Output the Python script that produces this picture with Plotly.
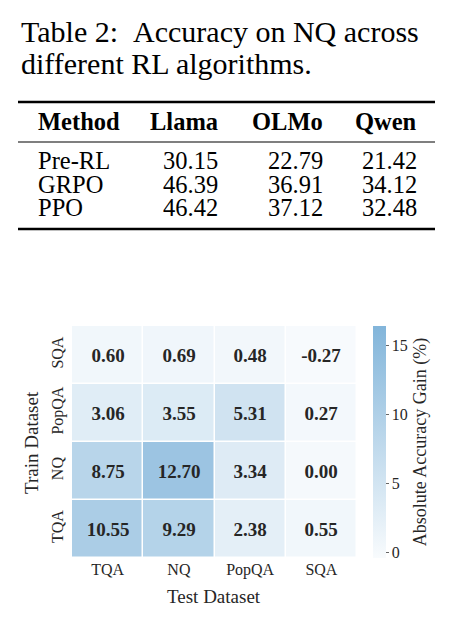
import plotly.graph_objects as go

W, H = 455, 623

# ---------------- data ----------------
caption_line1 = "Table 2:\u00a0\u00a0Accuracy on NQ across"
caption_line2 = "different RL algorithms."
table_header = ["Method", "Llama", "OLMo", "Qwen"]
table_methods = ["Pre-RL", "GRPO", "PPO"]
llama = [30.15, 46.39, 46.42]
olmo = [22.79, 36.91, 37.12]
qwen = [21.42, 34.12, 32.48]

test_sets = ["TQA", "NQ", "PopQA", "SQA"]
train_sets = ["TQA", "NQ", "PopQA", "SQA"]  # bottom -> top
gain = [
    [10.55, 9.29, 2.38, 0.55],   # TQA
    [8.75, 12.70, 3.34, 0.00],   # NQ
    [3.06, 3.55, 5.31, 0.27],    # PopQA
    [0.60, 0.69, 0.48, -0.27],   # SQA
]
cbar_ticks = [0, 5, 10, 15]
fig_caption = "Figure 3:\u00a0\u00a0Cross-dataset accuracy gains"

SERIF = "Liberation Serif, Times New Roman, serif"
INK = "#262626"


def px(x):
    return x / W


def py(y):
    return 1 - y / H


text = [[f"{v:.2f}" for v in row] for row in gain]

fig = go.Figure()
fig.add_trace(go.Heatmap(
    z=gain, x=test_sets, y=train_sets,
    text=text, texttemplate="%{text}",
    textfont=dict(family=SERIF, size=19, color=INK, weight="bold"),
    colorscale=[[0, "#f8fbfd"], [1, "#82b5da"]],
    zmin=-0.4, zmax=16.4,
    xgap=1.5, ygap=1.5,
    colorbar=dict(
        x=px(373), xanchor="left", xref="paper", xpad=0,
        y=py(442), yanchor="middle", yref="paper", ypad=0,
        thickness=13, len=232, lenmode="pixels",
        outlinewidth=0,
        tickvals=cbar_ticks, ticks="outside", ticklen=3, tickcolor="#666",
        tickfont=dict(family=SERIF, size=16, color=INK),
        title=dict(text="Absolute Accuracy Gain (%)", side="right",
                   font=dict(family=SERIF, size=18, color=INK)),
    ),
    hoverinfo="skip",
))

fig.update_xaxes(domain=[px(72), px(357)], showgrid=False, zeroline=False,
                 ticks="", tickfont=dict(family=SERIF, size=16, color=INK))
fig.update_yaxes(domain=[py(558), py(326)], showgrid=False, zeroline=False,
                 ticks="", tickangle=-90, ticklabelstandoff=5,
                 tickfont=dict(family=SERIF, size=16, color=INK))

ann = []
# axis titles
ann.append(dict(text="Test Dataset", x=px(214), y=py(596), xref="paper", yref="paper",
                showarrow=False, xanchor="center", yanchor="middle",
                font=dict(family=SERIF, size=19, color=INK)))
ann.append(dict(text="Train Dataset", x=px(31), y=py(442), xref="paper", yref="paper",
                showarrow=False, xanchor="center", yanchor="middle", textangle=-90,
                font=dict(family=SERIF, size=19, color=INK)))

# table caption
ann.append(dict(text=caption_line1, x=px(19), y=py(32), xref="paper", yref="paper",
                showarrow=False, xanchor="left", yanchor="middle",
                font=dict(family=SERIF, size=30, color="black")))
ann.append(dict(text=caption_line2, x=px(19), y=py(63), xref="paper", yref="paper",
                showarrow=False, xanchor="left", yanchor="middle",
                font=dict(family=SERIF, size=30, color="black")))

# table header
col_x = [36, 220, 325, 419]
for i, h in enumerate(table_header):
    ann.append(dict(text=f"<b>{h}</b>", x=px(col_x[i]), y=py(121), xref="paper", yref="paper",
                    showarrow=False, xanchor="left" if i == 0 else "right", yanchor="middle",
                    font=dict(family=SERIF, size=24.5, color="black")))
row_y = [161, 184, 207]
for r, m in enumerate(table_methods):
    vals = [m, f"{llama[r]:.2f}", f"{olmo[r]:.2f}", f"{qwen[r]:.2f}"]
    for i, v in enumerate(vals):
        ann.append(dict(text=v, x=px(col_x[i]), y=py(row_y[r]), xref="paper", yref="paper",
                        showarrow=False, xanchor="left" if i == 0 else "right", yanchor="middle",
                        font=dict(family=SERIF, size=24.5, color="black")))

# figure caption (cut off at the bottom)
ann.append(dict(text=fig_caption, x=px(27), y=py(632.5), xref="paper", yref="paper",
                showarrow=False, xanchor="left", yanchor="middle",
                font=dict(family=SERIF, size=30, color="black")))

shapes = []
for y, w in [(102, 2.5), (142, 1.2), (229, 2.5)]:
    shapes.append(dict(type="line", xref="paper", yref="paper",
                       x0=px(18), x1=px(435), y0=py(y), y1=py(y),
                       line=dict(color="black", width=w)))

fig.update_layout(
    width=W, height=H,
    margin=dict(l=0, r=0, t=0, b=0),
    paper_bgcolor="white", plot_bgcolor="white",
    annotations=ann, shapes=shapes,
    font=dict(family=SERIF),
)

fig.write_html("out.html")
